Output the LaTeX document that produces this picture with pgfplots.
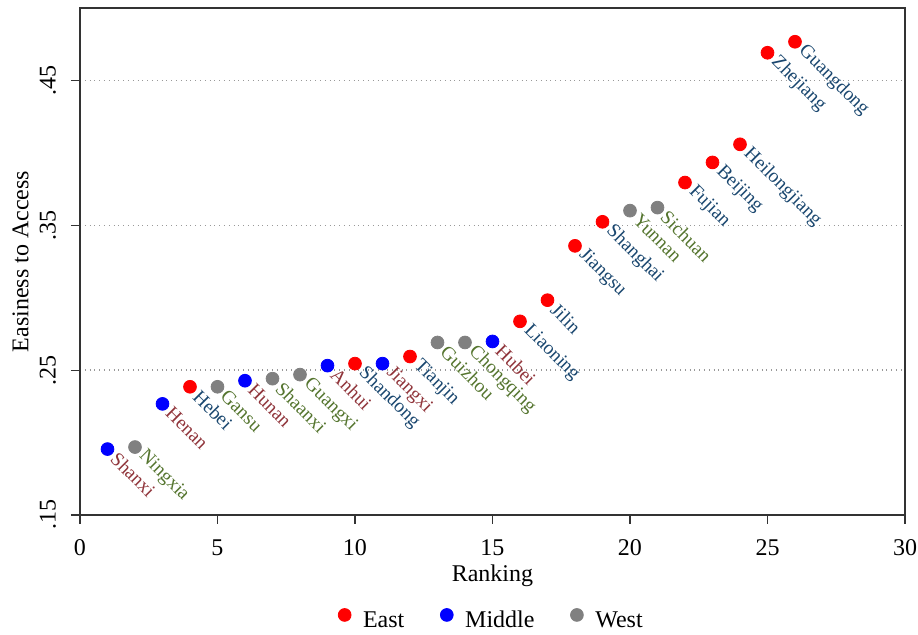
\documentclass[border=0pt]{standalone}
\usepackage{pgfplots}
\pgfplotsset{compat=1.18}
\usepackage{pgfplotstable}
\usepackage{fontspec}
\setmainfont{Liberation Serif}

% marker colours by region
\definecolor{eastmk}{RGB}{255,0,0}
\definecolor{midmk}{RGB}{0,0,255}
\definecolor{westmk}{RGB}{128,128,128}
% label colours by region
\definecolor{eastlab}{RGB}{26,71,111}
\definecolor{midlab}{RGB}{144,53,59}
\definecolor{westlab}{RGB}{85,117,47}

\pgfplotstableread{
x  y      label
4  0.2385 Hebei
10 0.2545 Shandong
12 0.2594 Tianjin
16 0.2837 Liaoning
17 0.2983 Jilin
18 0.3358 Jiangsu
19 0.3524 Shanghai
22 0.3795 Fujian
23 0.3934 Beijing
24 0.4059 Heilongjiang
25 0.4691 Zhejiang
26 0.4767 Guangdong
}\east

\pgfplotstableread{
x  y      label
1  0.1955 Shanxi
3  0.2267 Henan
6  0.2427 Hunan
9  0.2531 Anhui
11 0.2545 Jiangxi
15 0.2698 Hubei
}\middle

\pgfplotstableread{
x  y      label
2  0.1969 Ningxia
5  0.2385 Gansu
7  0.2441 Shaanxi
8  0.2469 Guangxi
13 0.2691 Guizhou
14 0.2691 Chongqing
20 0.3601 Yunnan
21 0.3622 Sichuan
}\west

\begin{document}
\begin{tikzpicture}
\begin{axis}[
  name=ax,
  scale only axis,
  width=412.5pt, height=253.5pt,
  xmin=0, xmax=30, ymin=0.15, ymax=0.5,
  xtick={0,5,...,30},
  ytick={0.15,0.25,0.35,0.45},
  yticklabels={.15,.25,.35,.45},
  yticklabel style={rotate=90, anchor=south, yshift=4pt},
  xticklabel style={inner sep=1pt, yshift=-6.5pt},
  /pgf/number format/assume math mode=true,
  tick align=outside, tick pos=left,
  major tick length=4.5pt,
  tick style={black!80, line width=0.6pt},
  axis line style={black!80, line width=0.6pt},
  ymajorgrids,
  grid style={dotted, black!40, line width=0.7pt},
  font=\fontsize{12}{14}\selectfont,
  xlabel={Ranking},
  ylabel={Easiness to Access},
  xlabel style={yshift=0pt},
  ylabel style={yshift=-1.3pt},
  clip=false,
  legend columns=3,
  legend style={at={(0.5,-0.209)}, anchor=center, draw=none,
    font=\fontsize{12}{14}\selectfont,
    /tikz/every odd column/.append style={column sep=4pt},
    /tikz/every even column/.append style={column sep=16pt}},
  legend image code/.code={\draw[#1, yshift=3pt] plot coordinates {(0.15cm,0cm)};},
  point meta=explicit symbolic,
  nodes near coords,
  every node near coord/.append style={anchor=west, rotate=-45,
    inner sep=4.5pt, font=\fontsize{9.7}{11}\selectfont},
]
\addplot[only marks, mark=*, mark size=3.2pt, color=eastmk,
  every node near coord/.append style={text=eastlab}]
  table[x=x, y=y, meta=label] {\east};
\addplot[only marks, mark=*, mark size=3.2pt, color=midmk,
  every node near coord/.append style={text=midlab}]
  table[x=x, y=y, meta=label] {\middle};
\addplot[only marks, mark=*, mark size=3.2pt, color=westmk,
  every node near coord/.append style={text=westlab}]
  table[x=x, y=y, meta=label] {\west};
\legend{East, Middle, West}
\end{axis}
% page frame: fixed margins around the plot area
\pgfresetboundingbox
\path (ax.south west) ++(-40pt,-60pt);
\path (ax.north east) ++(6.5pt,4pt);
\end{tikzpicture}
\end{document}
